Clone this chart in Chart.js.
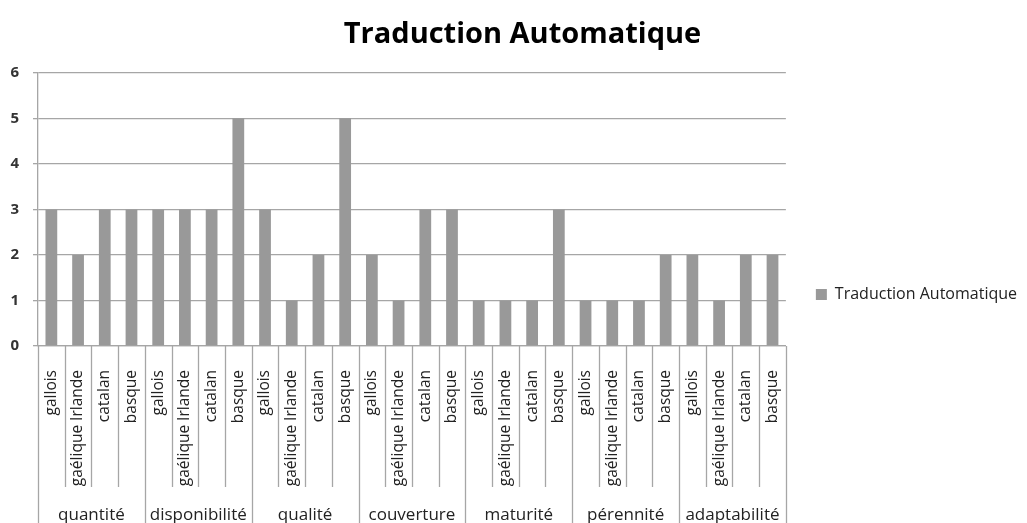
<!DOCTYPE html>
<html>
<head>
<meta charset="utf-8">
<script src="https://cdn.jsdelivr.net/npm/chart.js@4/dist/chart.umd.min.js"></script>
<style>
html,body{margin:0;padding:0;background:#fff;}
#wrap{width:1027px;height:523px;position:relative;}
</style>
</head>
<body>
<div id="wrap"><canvas id="c" width="1027" height="523"></canvas></div>
<script>
const chartTitle = "Traduction Automatique";
const seriesName = "Traduction Automatique";
const groups = ["quantité","disponibilité","qualité","couverture","maturité","pérennité","adaptabilité"];
const languages = ["gallois","gaélique Irlande","catalan","basque"];
const quantite = [3,2,3,3];
const disponibilite = [3,3,3,5];
const qualite = [3,1,2,5];
const couverture = [2,1,3,3];
const maturite = [1,1,1,3];
const perennite = [1,1,1,2];
const adaptabilite = [2,1,2,2];
const yTicks = [0,1,2,3,4,5,6];

const groupValues = [quantite,disponibilite,qualite,couverture,maturite,perennite,adaptabilite];
const labels = [];
const values = [];
groups.forEach((g,gi)=>{
  languages.forEach((l,li)=>{ labels.push(l); values.push(groupValues[gi][li]); });
});

const FONT = "'Open Sans', sans-serif";
const LINE = "#a6a6a6";

const dividerPlugin = {
  id: 'dividers',
  afterLayout(chart){
    if (chart.titleBlock) chart.titleBlock.left += 18;
    if (chart.legend) chart.legend.top += 66;
  },
  afterDraw(chart){
    const x = chart.scales.x;
    const ctx = chart.ctx;
    const n = labels.length;
    ctx.save();
    ctx.strokeStyle = LINE;
    ctx.lineWidth = 1.3;
    for(let i=0;i<=n;i++){
      let px;
      if(i===0) px = x.left;
      else if(i===n) px = x.right;
      else px = (x.getPixelForValue(i-1)+x.getPixelForValue(i))/2;
      const isGroup = (i % languages.length) === 0;
      const bottom = isGroup ? chart.height : x.bottom;
      ctx.beginPath();
      ctx.moveTo(Math.round(px)+0.5, x.top);
      ctx.lineTo(Math.round(px)+0.5, bottom);
      ctx.stroke();
    }
    ctx.restore();
  }
};

new Chart(document.getElementById('c'), {
  type: 'bar',
  data: {
    labels: labels,
    datasets: [{
      label: seriesName,
      data: values,
      backgroundColor: '#999999',
      borderWidth: 0,
      barPercentage: 0.44,
      categoryPercentage: 1.0,
      xAxisID: 'x'
    }]
  },
  options: {
    responsive: false,
    animation: false,
    layout: { padding: { left: 0, right: 0, top: 0, bottom: 0 } },
    plugins: {
      title: {
        display: true,
        text: chartTitle,
        color: '#000',
        font: { family: FONT, size: 29, weight: 'bold', lineHeight: 1.2 },
        padding: { top: 17, bottom: 21 }
      },
      legend: {
        position: 'right',
        labels: {
          boxWidth: 11, boxHeight: 11,
          color: '#222',
          font: { family: FONT, size: 16 },
          padding: 30
        }
      },
      tooltip: { enabled: false }
    },
    scales: {
      y: {
        min: 0, max: 6,
        afterBuildTicks(scale){ scale.ticks = yTicks.map(v=>({value:v})); },
        afterFit(scale){ scale.width = 38; },
        ticks: { color: '#333', font: { family: FONT, size: 15, weight: 'bold' }, padding: 14 },
        grid: { color: LINE, lineWidth: 1.3, tickLength: 5 },
        border: { display: true, color: LINE, width: 1.3 }
      },
      x: {
        type: 'category',
        labels: labels,
        offset: true,
        afterFit(scale){ scale.height = 141; },
        ticks: { color: '#222', font: { family: FONT, size: 15.5 }, minRotation: 90, maxRotation: 90, autoSkip: false, padding: 24 },
        grid: { display: false, drawTicks: false },
        border: { display: true, color: LINE, width: 1.3 }
      },
      x2: {
        type: 'category',
        labels: groups,
        offset: true,
        position: 'bottom',
        afterFit(scale){ scale.height = 36; },
        ticks: { color: '#222', font: { family: FONT, size: 17 }, maxRotation: 0, autoSkip: false, padding: 18 },
        grid: { display: false, drawTicks: false },
        border: { display: false }
      }
    }
  },
  plugins: [dividerPlugin]
});
</script>
</body>
</html>
